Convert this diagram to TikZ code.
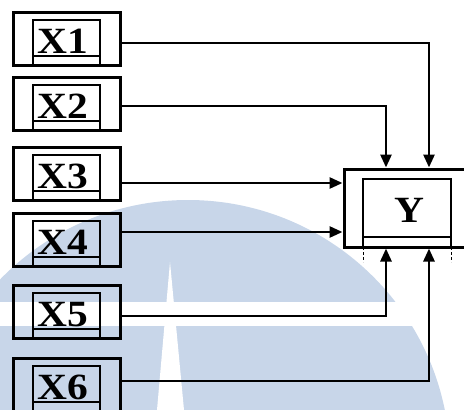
\documentclass[tikz,border=0pt]{standalone}
\usepackage{fontspec}
\setmainfont{Liberation Serif}
\usetikzlibrary{arrows.meta}
\definecolor{wmblue}{RGB}{200,214,233}
\begin{document}
\begin{tikzpicture}[x=1pt,y=-1pt,
  outerbox/.style={draw, line width=3pt, minimum width=107pt, minimum height=53pt, inner sep=0pt},
  innerline/.style={line width=1.8pt},
  tickline/.style={line width=1pt, dash pattern=on 3pt off 2pt},
  link/.style={line width=2.7pt, -{Triangle[length=13pt,width=11pt]}},
  lbl/.style={font=\fontsize{37}{37}\selectfont\bfseries, inner sep=0pt, anchor=base, xscale=1.12}]
\useasboundingbox (0,0) rectangle (464,410);
\clip (0,0) rectangle (464,410);

% faint background emblem
\fill[wmblue] (188,462) circle[radius=262pt];
\fill[white] (0,302) rectangle (464,326);
\fill[white] (170,262) -- (184,410) -- (157,410) -- cycle;

% input boxes X1..X6
\foreach \i/\t in {1/12,2/77,3/147,4/213,5/285,6/358}{
  \node[outerbox] (x\i) at (66.5,\t+26.5) {};
  \draw[innerline] (33,\t+53) -- (33,\t+8) -- (100,\t+8) -- (100,\t+53);
  \draw[innerline] (33,\t+44) -- (100,\t+44);
  \node[lbl] (lx\i) at (63,\t+41) {X\i};
}

% output box Y
\node[draw, line width=3pt, minimum width=132pt, minimum height=78pt, inner sep=0pt] (y) at (410,208) {};
\draw[innerline] (363,247) -- (363,179) -- (451,179) -- (451,247);
\draw[innerline] (363,237) -- (451,237);
\draw[tickline] (363,247) -- (363,262);
\draw[tickline] (451,247) -- (451,262);
\node[lbl] (ylbl) at (409,222) {Y};

% bend points of the connectors
\coordinate (c1) at (429,43);
\coordinate (c2) at (386,106);
\coordinate (c3) at (344,183);
\coordinate (c4) at (344,232);
\coordinate (c5) at (386,316);
\coordinate (c6) at (429,381);

% connectors
\draw[link] (x1.east |- c1) -- (c1) -- (c1 |- y.north);
\draw[link] (x2.east |- c2) -- (c2) -- (c2 |- y.north);
\draw[link] (x3.east |- c3) -- (y.west |- c3);
\draw[link] (x4.east |- c4) -- (y.west |- c4);
\draw[link] (x5.east |- c5) -- (c5) -- (c5 |- y.south);
\draw[link] (x6.east |- c6) -- (c6) -- (c6 |- y.south);
\end{tikzpicture}
\end{document}
